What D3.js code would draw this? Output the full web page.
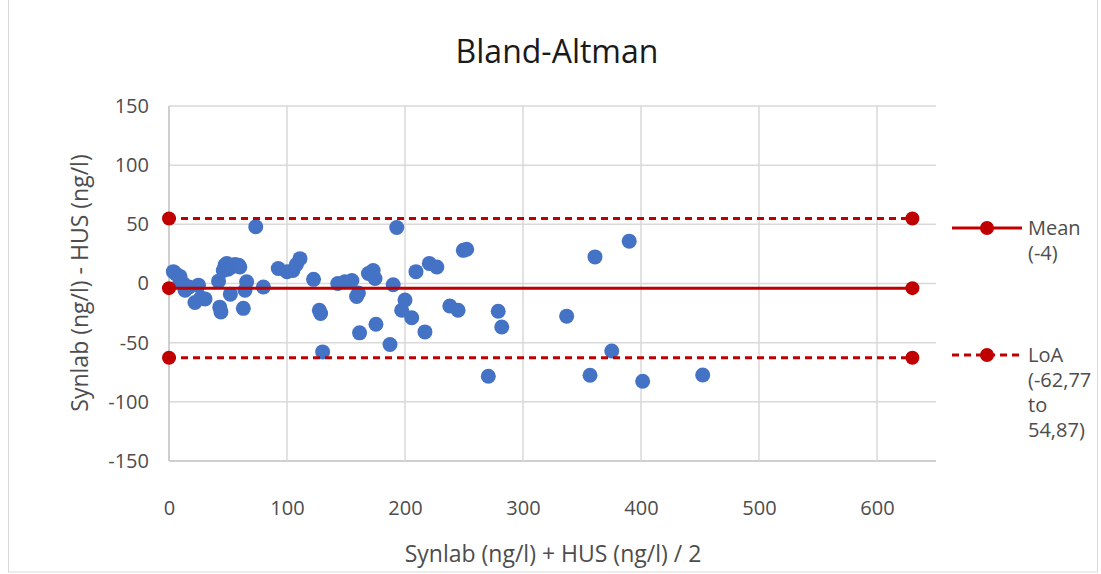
<!DOCTYPE html>
<html>
<head>
<meta charset="utf-8">
<script src="https://cdn.jsdelivr.net/npm/d3@7"></script>
<style>
  body { margin: 0; background: #fff; }
  svg { font-family: "Open Sans", sans-serif; }
</style>
</head>
<body>
<div id="chart"></div>
<script>
// averages (x) and differences (y)
var avgVals = [3.7, 6, 9.3, 9.3, 12, 13.6, 17, 22, 25, 27, 30.5, 42, 43, 44, 46, 47.5, 49, 50, 53, 56, 59, 60,
  52, 63, 64.4, 65.8, 73.5, 80, 92.6, 100, 105, 108, 111, 122.5, 127.4, 128.5, 130.2, 143, 149, 155,
  159, 160.5, 161.5, 169, 173, 174.6, 175.4, 187.3, 190, 193, 197.2, 200, 205.7, 209.3, 216.9, 220.6,
  227, 238, 245, 249.4, 252.3, 270.6, 279, 282, 337, 356.8, 361, 375.2, 390, 401.4, 452.3];
var diffVals = [10, 8, 6, 1.4, 0, -5.7, -3, -16, -1.4, -12, -13, 2, -20, -24, 11, 15.5, 17, 12, 14, 16, 15.5, 14,
  -9, -21, -5.7, 1.4, 48, -3, 12.7, 10, 11, 16, 21, 3.5, -22.6, -25.4, -57.8, 0, 1.4, 2.5,
  -11, -8, -41.7, 8.5, 11, 4.2, -34.4, -51.6, -1, 47.3, -22.6, -14, -29, 10, -40.9, 17,
  14, -19, -22.6, 28, 29, -78.4, -23.5, -36.7, -27.6, -77.5, 22.5, -57, 35.8, -82.6, -77.3];

var meanDiff = -3.95;
var loaLow = -62.77, loaHigh = 54.87;
var lineEnds = [0, 630];
var xTicks = [0, 100, 200, 300, 400, 500, 600];
var yTicks = [-150, -100, -50, 0, 50, 100, 150];
var legendItems = [
  {label: ["Mean", "(-4)"], dash: null},
  {label: ["LoA", "(-62,77", "to", "54,87)"], dash: "7,5"}
];

var width = 1101, height = 574;
var margin = {top: 106, right: 165, bottom: 113, left: 169};
var red = "#C00000", blue = "#4472C4";
var textCol = "#4d4d4d";

var svg = d3.select("#chart").append("svg")
  .attr("width", width)
  .attr("height", height);

// outer border
svg.append("rect")
  .attr("x", 8.5).attr("y", -1)
  .attr("width", 1089).attr("height", 573)
  .attr("fill", "none")
  .attr("stroke", "#d9d9d9");

var x = d3.scaleLinear().domain([0, 650]).range([margin.left, width - margin.right]);
var y = d3.scaleLinear().domain([-150, 150]).range([height - margin.bottom, margin.top]);

// grid
svg.append("g").selectAll("line.h")
  .data(yTicks).enter().append("line")
  .attr("x1", x(0)).attr("x2", x(650))
  .attr("y1", d => y(d)).attr("y2", d => y(d))
  .attr("stroke", d => d == -150 ? "#bfbfbf" : "#d9d9d9")
  .attr("stroke-width", 1.5);

svg.append("g").selectAll("line.v")
  .data(xTicks).enter().append("line")
  .attr("x1", d => x(d)).attr("x2", d => x(d))
  .attr("y1", y(150)).attr("y2", y(-150))
  .attr("stroke", d => d == 0 ? "#bfbfbf" : "#d9d9d9")
  .attr("stroke-width", 1.5);

// axes labels via d3 axes
var yAxis = svg.append("g")
  .attr("transform", `translate(${margin.left},0)`)
  .call(d3.axisLeft(y).tickValues(yTicks).tickFormat(d => String(d)).tickSize(0).tickPadding(20));
var xAxis = svg.append("g")
  .attr("transform", `translate(0,${height - margin.bottom})`)
  .call(d3.axisBottom(x).tickValues(xTicks).tickFormat(d => String(d)).tickSize(0).tickPadding(54));
[xAxis, yAxis].forEach(a => {
  a.select(".domain").remove();
  a.selectAll("text").attr("font-size", 20).attr("fill", textCol)
    .attr("font-family", "'Open Sans', sans-serif");
});
xAxis.selectAll("text").attr("dy", "0");

// points
svg.append("g").selectAll("circle")
  .data(avgVals.map((v, i) => [v, diffVals[i]]))
  .enter().append("circle")
  .attr("cx", d => x(d[0]))
  .attr("cy", d => y(d[1]))
  .attr("r", 7.5)
  .attr("fill", blue);

// mean and LoA lines
var refLines = [
  {v: loaHigh, dash: "7,5"},
  {v: meanDiff, dash: null},
  {v: loaLow, dash: "7,5"}
];
var line = d3.line().x(d => x(d[0])).y(d => y(d[1]));
refLines.forEach(r => {
  var pts = lineEnds.map(e => [e, r.v]);
  svg.append("path")
    .attr("d", line(pts))
    .attr("fill", "none")
    .attr("stroke", red)
    .attr("stroke-width", 3)
    .attr("stroke-dasharray", r.dash);
  svg.selectAll(null).data(pts).enter().append("circle")
    .attr("cx", d => x(d[0])).attr("cy", d => y(d[1]))
    .attr("r", 7).attr("fill", red);
});

// title
svg.append("text")
  .attr("x", 557).attr("y", 63)
  .attr("text-anchor", "middle")
  .attr("font-size", 32)
  .attr("fill", "#1a1a1a")
  .text("Bland-Altman");

// axis titles
svg.append("text")
  .attr("x", 553).attr("y", 562)
  .attr("text-anchor", "middle")
  .attr("font-size", 23).attr("fill", textCol)
  .text("Synlab (ng/l) + HUS (ng/l) / 2");
svg.append("text")
  .attr("transform", "translate(88,283) rotate(-90)")
  .attr("text-anchor", "middle")
  .attr("font-size", 23).attr("fill", textCol)
  .text("Synlab (ng/l) - HUS (ng/l)");

// legend
var legendY = [228, 355];
legendItems.forEach((it, i) => {
  var g = svg.append("g").attr("transform", `translate(952,${legendY[i]})`);
  g.append("line").attr("x1", 0).attr("x2", 70).attr("y1", 0).attr("y2", 0)
    .attr("stroke", red).attr("stroke-width", 3).attr("stroke-dasharray", it.dash);
  g.append("circle").attr("cx", 35).attr("cy", 0).attr("r", 7).attr("fill", red);
  it.label.forEach((t, j) => {
    g.append("text").attr("x", 76).attr("y", j * 25 + 7)
      .attr("font-size", 20).attr("fill", textCol).text(t);
  });
});
</script>
</body>
</html>
